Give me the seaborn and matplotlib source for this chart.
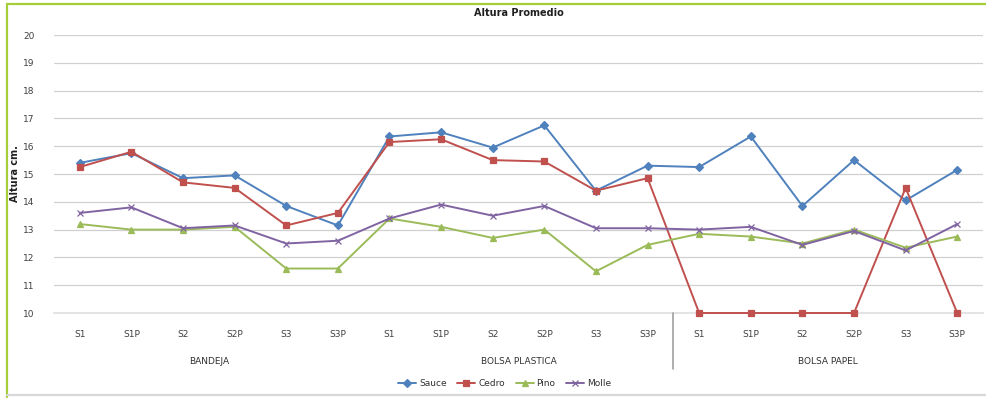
import numpy as np
import pandas as pd
import matplotlib
matplotlib.use("Agg")
import matplotlib.pyplot as plt
import seaborn as sns

# Sub-categories (tick labels) and their groups
ticks = ["S1", "S1P", "S2", "S2P", "S3", "S3P"]
groups = ["BANDEJA", "BOLSA PLASTICA", "BOLSA PAPEL"]

# Average height (cm) per species, 18 points: 6 treatments x 3 containers
sauce = [15.4, 15.75, 14.85, 14.95, 13.85, 13.15,
         16.35, 16.5, 15.95, 16.75, 14.4, 15.3,
         15.25, 16.35, 13.85, 15.5, 14.05, 15.15]
cedro = [15.25, 15.8, 14.7, 14.5, 13.15, 13.6,
         16.15, 16.25, 15.5, 15.45, 14.4, 14.85,
         10.0, 10.0, 10.0, 10.0, 14.5, 10.0]
pino = [13.2, 13.0, 13.0, 13.1, 11.6, 11.6,
        13.4, 13.1, 12.7, 13.0, 11.5, 12.45,
        12.85, 12.75, 12.5, 13.0, 12.35, 12.75]
molle = [13.6, 13.8, 13.05, 13.15, 12.5, 12.6,
         13.4, 13.9, 13.5, 13.85, 13.05, 13.05,
         13.0, 13.1, 12.45, 12.95, 12.25, 13.2]

series = {"Sauce": sauce, "Cedro": cedro, "Pino": pino, "Molle": molle}
colors = {"Sauce": "#4F81BD", "Cedro": "#C0504D", "Pino": "#9BBB59", "Molle": "#8064A2"}
markers = {"Sauce": "D", "Cedro": "s", "Pino": "^", "Molle": "x"}

n = len(ticks) * len(groups)
pos = np.arange(n)

sns.set_theme(style="white")
plt.rcParams["font.family"] = ["DejaVu Sans"]

fig = plt.figure(figsize=(9.87, 4.09), dpi=100)
ax = fig.add_axes([0.0547, 0.2347, 0.9413, 0.6797])

for name, vals in series.items():
    d = pd.DataFrame({"pos": pos, "Altura": vals})
    sns.lineplot(data=d, x="pos", y="Altura", color=colors[name], marker=markers[name],
                 markersize=4.5, markeredgewidth=0.9, markeredgecolor=colors[name],
                 linewidth=1.4, sort=False, ax=ax, label=name, clip_on=False, zorder=4)

ax.set_xlim(-0.5, n - 0.5)
ax.set_ylim(10, 20)
ax.set_yticks(np.arange(10, 21, 1))
ax.tick_params(axis="y", labelsize=6.5, colors="#404040", length=0, pad=14)
ax.set_xticks(pos)
ax.set_xticklabels(ticks * len(groups), fontsize=6.5, color="#404040")
ax.tick_params(axis="x", length=0, pad=12)
ax.set_xlabel("")
ax.set_ylabel("Altura cm.", fontsize=7, fontweight="bold", color="#202020")
ax.yaxis.set_label_coords(-0.037, 0.5)

ax.set_axisbelow(True)
ax.grid(axis="y", color="#D0D0D0", linewidth=0.9)
ax.grid(axis="x", visible=False)
for s in ["top", "right", "left"]:
    ax.spines[s].set_visible(False)
ax.spines["bottom"].set_color("#E0E0E0")
ax.spines["bottom"].set_zorder(1)

# Group labels below the category axis, with a divider before the last group
trans = ax.get_xaxis_transform()
for i, g in enumerate(groups):
    center = i * len(ticks) + (len(ticks) - 1) / 2
    ax.text(center, -0.175, g, transform=trans, ha="center", va="center",
            fontsize=6.5, color="#303030")
xb = (len(groups) - 1) * len(ticks) - 0.5
ax.plot([xb, xb], [0, -0.2], transform=trans, color="#A0A0A0",
        linewidth=1.2, clip_on=False)

ax.set_title("Altura Promedio", fontsize=7, fontweight="bold", color="#202020", pad=14)

leg = ax.legend(loc="center", bbox_to_anchor=(0.485, -0.255), ncol=4, frameon=False,
                fontsize=6.5, handlelength=2.0, columnspacing=1.2, handletextpad=0.3)
for t in leg.get_texts():
    t.set_color("#303030")

# Outer frame
fig.add_artist(plt.Line2D([0.007, 0.007], [0.03, 0.99], transform=fig.transFigure,
                          color="#A6CE39", linewidth=1.6))
fig.add_artist(plt.Line2D([0.007, 1.0], [0.99, 0.99], transform=fig.transFigure,
                          color="#A6CE39", linewidth=1.6))
fig.add_artist(plt.Line2D([0.007, 1.0], [0.034, 0.034], transform=fig.transFigure,
                          color="#D8D8D8", linewidth=1.6))

fig.savefig("out.png", dpi=100)
